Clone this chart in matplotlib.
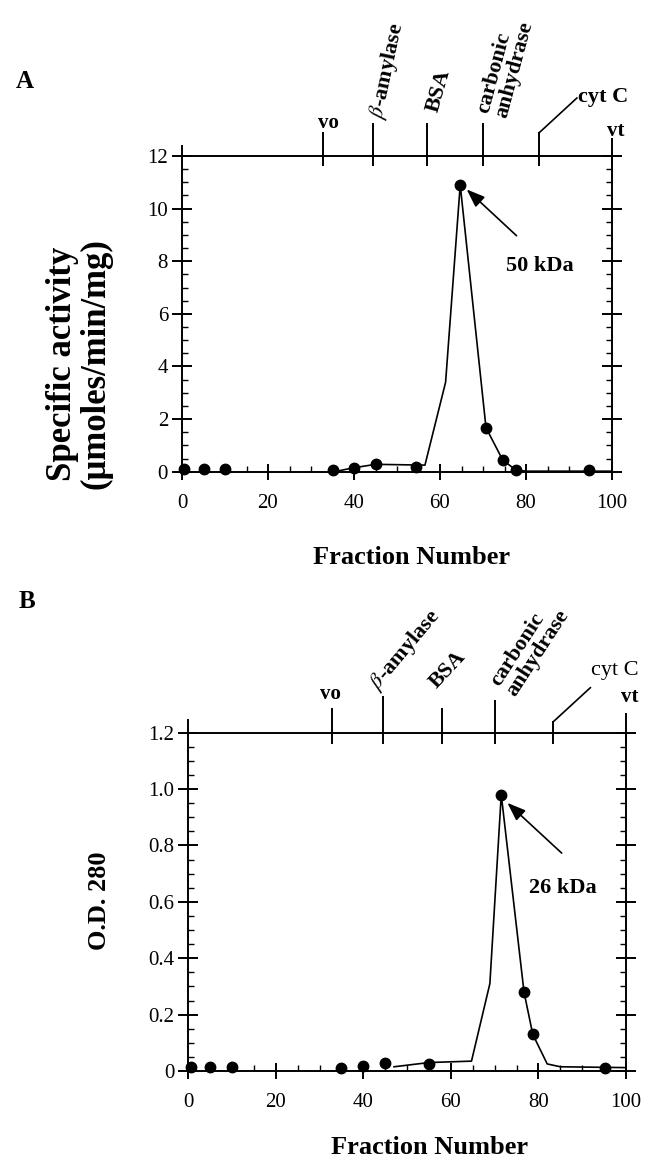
import matplotlib
matplotlib.use('Agg')
import matplotlib.pyplot as plt
from matplotlib.transforms import blended_transform_factory
from matplotlib.ticker import MultipleLocator, FixedLocator, FixedFormatter

plt.rcParams['font.family'] = ['Liberation Serif', 'DejaVu Serif']
plt.rcParams['mathtext.fontset'] = 'stix'

# ---------------- data ----------------
# Panel A: specific activity
fracA_pts = [0.5, 5, 10, 35, 40, 45, 54.5, 64.7, 70.7, 74.6, 77.6, 94.7]
actA_pts = [0.1, 0.1, 0.1, 0.07, 0.15, 0.28, 0.19, 10.9, 1.67, 0.44, 0.07, 0.07]
fracA_line = [36, 40, 45, 56.5, 61.3, 64.7, 70.7, 74.6, 77.6, 80, 100]
actA_line = [0.02, 0.15, 0.28, 0.25, 3.4, 10.9, 1.67, 0.44, 0.07, 0.02, 0.02]

# Panel B: O.D. 280
fracB_pts = [0.6, 5, 10, 35, 40, 45, 55, 71.5, 76.7, 78.7, 95.2]
odB_pts = [0.015, 0.015, 0.015, 0.01, 0.018, 0.03, 0.025, 0.98, 0.28, 0.13, 0.01]
fracB_line = [47, 55, 64.7, 68.9, 71.5, 76.7, 78.7, 82, 85, 100]
odB_line = [0.015, 0.03, 0.035, 0.31, 0.98, 0.28, 0.13, 0.025, 0.015, 0.012]

# calibration markers (fraction numbers)
marker_names = ['vo', r'$\beta$-amylase', 'BSA', 'carbonic\nanhydrase', 'cyt C', 'vt']
markers_A = [32.7, 44.4, 56.9, 69.9, 83.0, 100]
markers_B = [32.8, 44.4, 58.0, 70.1, 83.4, 100]

x_ticks = [0, 20, 40, 60, 80, 100]
x_ticklabels = ['0', '20', '40', '60', '80', '100']
yA_ticks = [0, 2, 4, 6, 8, 10, 12]
yA_ticklabels = ['0', '2', '4', '6', '8', '10', '12']
yB_ticks = [0, 0.2, 0.4, 0.6, 0.8, 1.0, 1.2]
yB_ticklabels = ['0', '0.2', '0.4', '0.6', '0.8', '1.0', '1.2']

# ---------------- figure ----------------
W, H = 649, 1167
fig = plt.figure(figsize=(W / 100, H / 100), dpi=100)


def px_axes(left, top, right, bottom):
    return [left / W, 1 - bottom / H, (right - left) / W, (bottom - top) / H]


axA = fig.add_axes(px_axes(182, 156, 612, 471.7))
axB = fig.add_axes(px_axes(188.3, 732.7, 626, 1071))

LW = 1.4


def style(ax, yticks, ylabels, ymax, yminor):
    ax.set_xlim(0, 100)
    ax.set_ylim(0, ymax)
    ax.xaxis.set_major_locator(FixedLocator(x_ticks))
    ax.xaxis.set_major_formatter(FixedFormatter(x_ticklabels))
    ax.xaxis.set_minor_locator(MultipleLocator(5))
    ax.yaxis.set_major_locator(FixedLocator(yticks))
    ax.yaxis.set_major_formatter(FixedFormatter(ylabels))
    ax.yaxis.set_minor_locator(MultipleLocator(yminor))
    for s in ax.spines.values():
        s.set_linewidth(LW)
    ax.tick_params(axis='y', which='major', direction='inout', length=14, width=LW,
                   left=True, right=True, labelsize=15, pad=3)
    ax.tick_params(axis='y', which='minor', direction='in', length=4.5, width=1.0,
                   left=True, right=True)
    ax.tick_params(axis='x', which='major', direction='inout', length=12, width=LW,
                   bottom=True, top=False, labelsize=15, pad=10)
    ax.tick_params(axis='x', which='minor', direction='in', length=4, width=1.0,
                   bottom=True, top=False)


style(axA, yA_ticks, yA_ticklabels, 12, 0.5)
style(axB, yB_ticks, yB_ticklabels, 1.2, 0.05)

# data
axA.plot(fracA_line, actA_line, color='black', lw=1.2, zorder=3, clip_on=False)
axA.plot(fracA_pts, actA_pts, 'o', color='black', ms=7.5, zorder=4, clip_on=False)
axB.plot(fracB_line, odB_line, color='black', lw=1.2, zorder=3, clip_on=False)
axB.plot(fracB_pts, odB_pts, 'o', color='black', ms=7.5, zorder=4, clip_on=False)


def ax_px(ax):
    pos = ax.get_position()
    return pos.width * W, pos.height * H


def draw_markers(ax, xs, ups, down, labels, left_ext, cyt_leader):
    wpx, hpx = ax_px(ax)
    tr = blended_transform_factory(ax.transData, ax.transAxes)
    for x, up in zip(xs, ups):
        ax.plot([x, x], [1 - down / hpx, 1 + up / hpx], color='black', lw=LW,
                transform=tr, clip_on=False)
    # left spine extension
    ax.plot([0, 0], [1, 1 + left_ext / hpx], color='black', lw=LW,
            transform=tr, clip_on=False)
    # cyt C leader
    xc = xs[4]
    (u0, dx1, u1) = cyt_leader
    ax.plot([xc, xc + dx1 / wpx * 100], [1 + u0 / hpx, 1 + u1 / hpx],
            color='black', lw=1.2, transform=tr, clip_on=False)
    for i, (name, (dx, dy, rot, ha, va, weight, size)) in enumerate(zip(marker_names, labels)):
        ax.annotate(name, xy=(xs[i], 1), xycoords=tr, xytext=(dx, dy),
                    textcoords='offset pixels', rotation=rot, rotation_mode='anchor',
                    ha=ha, va=va, fontweight=weight, fontsize=size,
                    linespacing=0.95, annotation_clip=False)


labels_A = [
    (6, 33, 0, 'center', 'center', 'bold', 15),
    (4, 37, 78, 'left', 'center', 'bold', 16),
    (6, 44, 74, 'left', 'center', 'bold', 16),
    (10, 41, 75, 'left', 'center', 'bold', 16),
    (39, 59, 0, 'left', 'center', 'bold', 16),
    (4, 25, 0, 'center', 'center', 'bold', 15),
]
draw_markers(axA, markers_A, [23, 32, 32, 32, 23, 17], 9, labels_A, 10, (23, 38, 58))

labels_B = [
    (-1, 39, 0, 'center', 'center', 'bold', 15),
    (-9, 45, 50, 'left', 'center', 'bold', 16),
    (-9, 47, 47, 'left', 'center', 'bold', 16),
    (8, 43, 57, 'left', 'center', 'bold', 16),
    (38, 62, 0, 'left', 'center', 'normal', 16),
    (4, 36, 0, 'center', 'center', 'bold', 15),
]
draw_markers(axB, markers_B, [24, 36, 24, 32, 11, 19], 10, labels_B, 13, (11, 37, 45))

# annotations
arrow = dict(arrowstyle='-|>,head_length=0.8,head_width=0.3', color='black',
             lw=1.2, mutation_scale=14, shrinkA=0, shrinkB=0)
axA.annotate('', xy=(66.2, 10.73), xytext=(77.8, 8.97), arrowprops=arrow)
axA.text(83.3, 7.83, '50 kDa', ha='center', va='center', fontsize=16, fontweight='bold')
axB.annotate('', xy=(72.9, 0.951), xytext=(85.3, 0.773), arrowprops=arrow)
axB.text(85.5, 0.649, '26 kDa', ha='center', va='center', fontsize=16, fontweight='bold')

# axis labels
fig.text(412 / W, 1 - 557 / H, 'Fraction Number', ha='center', va='center',
         fontsize=19, fontweight='bold')
fig.text(430 / W, 1 - 1148 / H, 'Fraction Number', ha='center', va='center',
         fontsize=19, fontweight='bold')
fig.text(79 / W, 1 - 364 / H, 'Specific activity\n(\u03bcmoles/min/mg)', ha='center',
         va='center', rotation=90, fontsize=25, fontweight='bold', linespacing=1.0)
fig.text(100 / W, 1 - 901 / H, 'O.D. 280', ha='center', va='center', rotation=90,
         fontsize=19, fontweight='bold')

# panel letters
fig.text(25 / W, 1 - 81 / H, 'A', ha='center', va='center', fontsize=18, fontweight='bold')
fig.text(27 / W, 1 - 602 / H, 'B', ha='center', va='center', fontsize=18, fontweight='bold')

fig.savefig('out.png', dpi=100)
